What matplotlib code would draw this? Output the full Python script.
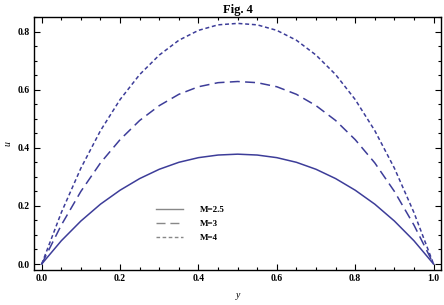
import numpy as np
import matplotlib
matplotlib.use('Agg')
import matplotlib.pyplot as plt
from matplotlib.lines import Line2D
from matplotlib.ticker import MultipleLocator

# Data
y_pos = [0.0, 0.05, 0.1, 0.15, 0.2, 0.25, 0.3, 0.35, 0.4, 0.45, 0.5,
         0.55, 0.6, 0.65, 0.7, 0.75, 0.8, 0.85, 0.9, 0.95, 1.0]
u_m25 = [0.0, 0.080, 0.148, 0.206, 0.254, 0.294, 0.326, 0.350, 0.366, 0.375, 0.378,
         0.375, 0.366, 0.350, 0.326, 0.294, 0.254, 0.206, 0.148, 0.080, 0.0]
u_m3 = [0.0, 0.134, 0.250, 0.348, 0.428, 0.494, 0.545, 0.584, 0.610, 0.624, 0.628,
        0.624, 0.610, 0.584, 0.545, 0.494, 0.428, 0.348, 0.250, 0.134, 0.0]
u_m4 = [0.0, 0.177, 0.330, 0.459, 0.566, 0.652, 0.719, 0.770, 0.804, 0.823, 0.828,
        0.823, 0.804, 0.770, 0.719, 0.652, 0.566, 0.459, 0.330, 0.177, 0.0]
labels = ['M=2.5', 'M=3', 'M=4']

col = '#3d3d99'
styles = ['-', (0, (6.5, 3.5)), (0, (2.6, 1.8))]

plt.rcParams['font.family'] = ['Liberation Serif', 'DejaVu Serif']

fig = plt.figure(figsize=(4.44, 3.05), dpi=100)
ax = fig.add_axes([34/444, 1-270/305, (441-34)/444, (270-17)/305])

for u, ls in zip([u_m25, u_m3, u_m4], styles):
    ax.plot(y_pos, u, color=col, lw=1.1, ls=ls)

ax.set_xlim(-0.0197, 1.019)
ax.set_ylim(-0.0206, 0.850)
ax.xaxis.set_major_locator(MultipleLocator(0.2))
ax.xaxis.set_minor_locator(MultipleLocator(0.05))
ax.yaxis.set_major_locator(MultipleLocator(0.2))
ax.yaxis.set_minor_locator(MultipleLocator(0.05))
ax.tick_params(which='both', direction='in', top=True, right=True,
               labelsize=7, width=0.8, pad=3)
ax.tick_params(which='major', length=4)
ax.tick_params(which='minor', length=2.5)
for lab in ax.get_xticklabels() + ax.get_yticklabels():
    lab.set_fontweight('bold')
for s in ax.spines.values():
    s.set_linewidth(1.0)

ax.set_xlabel('y', fontsize=7, style='italic', labelpad=6)
ax.set_ylabel('u', fontsize=7, style='italic', labelpad=4)
ax.set_title('Fig. 4', fontsize=9, fontweight='bold', pad=3)

handles = [Line2D([], [], color='#888888', lw=1.0, ls=ls) for ls in styles]
leg = ax.legend(handles, labels, frameon=False, loc='upper left',
                bbox_to_anchor=(0.28, 0.285), handlelength=3.0, handletextpad=1.9,
                labelspacing=0.6, prop={'size': 6.5, 'weight': 'bold'})

fig.savefig('out.png', dpi=100)
